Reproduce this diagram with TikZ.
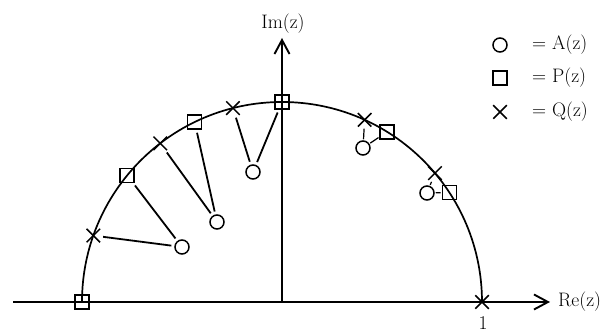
\documentclass[tikz,border=0pt]{standalone}
\usetikzlibrary{shapes.misc,arrows.meta}
\begin{document}
\begin{tikzpicture}[x=1pt,y=1pt,
  mk/.style={draw, line width=1.5pt, inner sep=0pt, fill=none},
  zc/.style={mk, circle, minimum size=14pt},
  ps/.style={mk, rectangle, minimum size=14pt},
  qx/.style={mk, cross out, minimum size=12pt},
  conn/.style={line width=1.8pt, shorten <=3pt, shorten >=3pt},
  axis/.style={line width=1.9pt},
  lbl/.style={font=\fontsize{19.5}{22}\selectfont, inner sep=0pt}]
\fill[white] (0,0) rectangle (608,334);
\useasboundingbox (0,0) rectangle (608,334);
\begin{scope}[shift={(282,32)}]
  % axes
  \coordinate (xl) at (-269,0);
  \coordinate (xr) at (268,0);
  \coordinate (yb) at (0,0);
  \coordinate (yt) at (0,264);
  \draw[axis, -{Straight Barb[length=14pt,width=15pt]}] (xl) -- (xr);
  \draw[axis, -{Straight Barb[length=14pt,width=15pt]}] (yb) -- (yt);
  \node[lbl, anchor=west] (re) at (276,0) {Re(z)};
  \node[lbl] (im) at (1,278) {Im(z)};
  \node[lbl] (one) at (201,-21) {1};
  % unit circle arc
  \draw[line width=1.7pt] (200,0) arc[start angle=0, end angle=180, radius=200];
  % poles/zeros on the circle
  \node[ps] (p1) at (180:200) {};
  \node[qx] (q1) at (160.6:200) {};
  \node[ps] (p2) at (140.7:200) {};
  \node[qx] (q2) at (127.5:200) {};
  \node[ps] (p3) at (115.9:200) {};
  \node[qx] (q3) at (104.2:200) {};
  \node[ps] (p4) at (90:200) {};
  \node[qx] (q4) at (65.6:200) {};
  \node[ps] (p5) at (58.3:200) {};
  \node[qx] (q5) at (40.1:200) {};
  \node[ps] (p6) at (33.2:200) {};
  \node[qx] (q6) at (0:200) {};
  % zeros of A(z)
  \node[zc] (a1) at (-100,55) {};
  \node[zc] (a2) at (-65,80) {};
  \node[zc] (a3) at (-29,130) {};
  \node[zc] (a4) at (81,154) {};
  \node[zc] (a5) at (145,109) {};
  % connectors
  \draw[conn] (a1) -- (q1);
  \draw[conn] (a1) -- (p2);
  \draw[conn] (a2) -- (q2);
  \draw[conn] (a2) -- (p3);
  \draw[conn] (a3) -- (q3);
  \draw[conn] (a3) -- (p4);
  \draw[conn, line width=1.2pt, shorten <=1pt, shorten >=2pt] (a4) -- (q4);
  \draw[conn, line width=1.2pt, shorten <=1pt, shorten >=1pt] (a4) -- (p5);
  \draw[conn, line width=1.2pt, shorten <=1pt, shorten >=2pt] (a5) -- (q5);
  \draw[conn, line width=1.2pt, shorten <=1pt, shorten >=1pt] (a5) -- (p6);
  % legend
  \node[zc] (la) at (218,257) {};
  \node[ps] (lp) at (218,224) {};
  \node[qx] (lq) at (218,190) {};
  \node[lbl, anchor=west] (ta) at (250,257) {= A(z)};
  \node[lbl, anchor=west] (tp) at (250,224) {= P(z)};
  \node[lbl, anchor=west] (tq) at (250,190) {= Q(z)};
\end{scope}
\end{tikzpicture}
\end{document}
